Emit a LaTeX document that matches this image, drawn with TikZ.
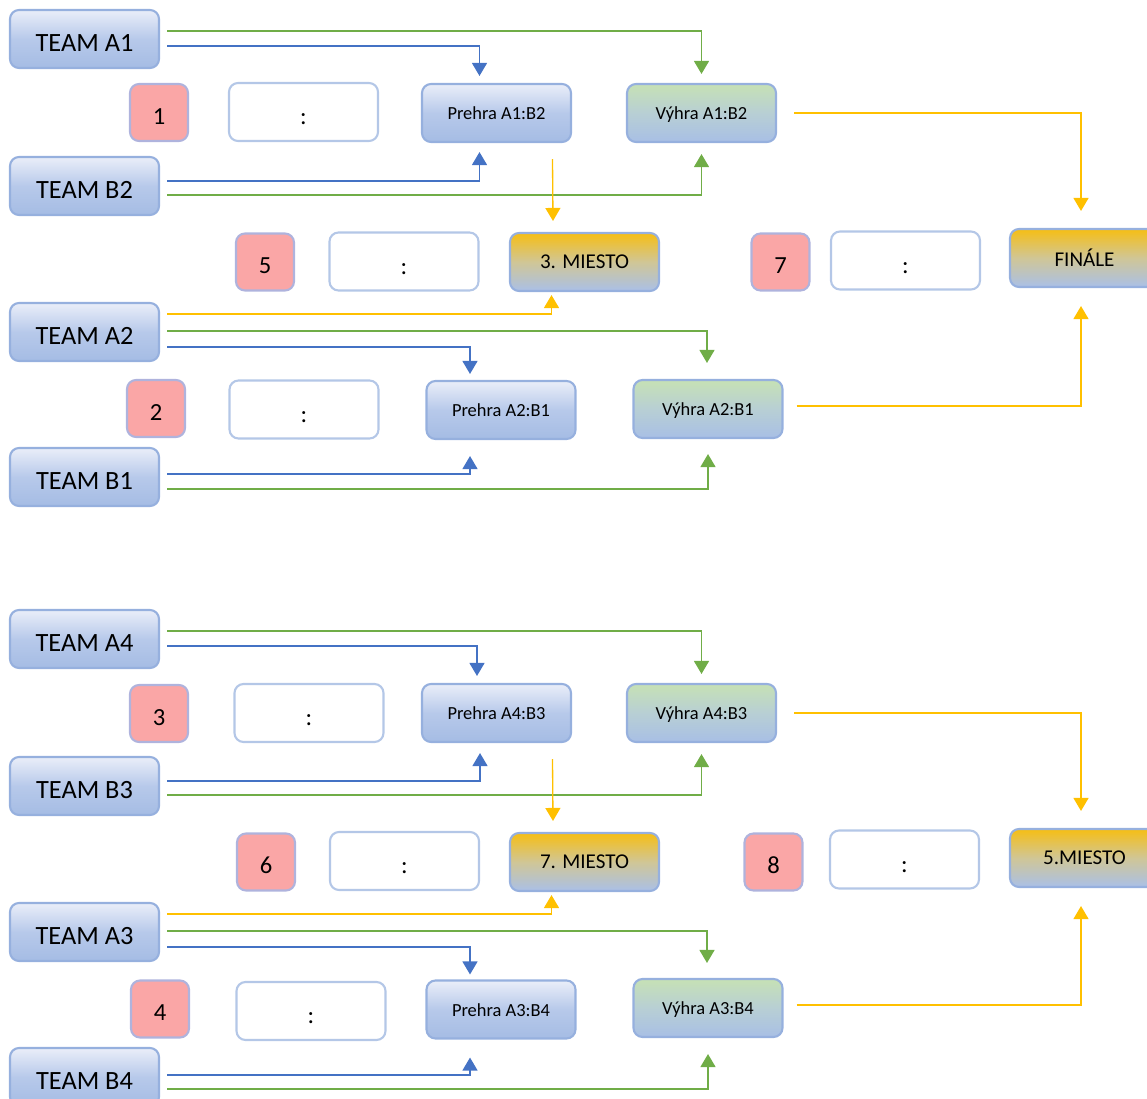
\documentclass[tikz,border=0pt]{standalone}
\usepackage{fontspec}
\setmainfont{Carlito}
\usetikzlibrary{calc,arrows.meta}
\definecolor{lnblue}{RGB}{68,114,196}
\definecolor{lngreen}{RGB}{112,173,71}
\definecolor{lnyellow}{RGB}{255,192,0}
\definecolor{boxedge}{RGB}{150,176,222}
\definecolor{scoreedge}{RGB}{180,199,231}
\definecolor{numfill}{RGB}{250,166,166}
\tikzset{
  box/.style={draw=boxedge, line width=1.2pt, rounded corners=0.18cm, inner sep=0pt,
    minimum width=2.98cm, minimum height=1.16cm, align=center},
  team/.style={box, top color={rgb,255:red,234;green,238;blue,249},
    bottom color={rgb,255:red,165;green,188;blue,228},
    middle color={rgb,255:red,183;green,201;blue,234},
    font=\fontsize{15}{18}\selectfont, text height=13.7pt, text depth=0pt},
  lose/.style={team, font=\fontsize{10.5}{12}\selectfont, text height=7.8pt},
  win/.style={box, top color={rgb,255:red,198;green,225;blue,181},
    bottom color={rgb,255:red,168;green,191;blue,229},
    middle color={rgb,255:red,184;green,207;blue,212},
    font=\fontsize{10.5}{12}\selectfont, text height=7.8pt, text depth=0pt},
  place/.style={box, top color={rgb,255:red,246;green,190;blue,20},
    bottom color={rgb,255:red,170;green,192;blue,231},
    middle color={rgb,255:red,208;green,198;blue,150},
    font=\fontsize{12}{14}\selectfont},
  num/.style={box, draw=scoreedge!90!violet, fill=numfill, minimum width=1.16cm,
    minimum height=1.14cm, font=\fontsize{14}{16}\selectfont,
    text height=13.4pt, text depth=0pt},
  score/.style={box, draw=scoreedge, fill=white, font=\fontsize{14}{16}\selectfont,
    text height=14.4pt, text depth=0pt},
  con/.style={line width=0.75pt, -{Triangle[width=0.3cm,length=0.26cm]}},
  bl/.style={con, lnblue},
  gr/.style={con, lngreen},
  ye/.style={con, lnyellow}
}
\begin{document}
\begin{tikzpicture}[x=0.02cm, y=-0.02cm]
\useasboundingbox (0,0) rectangle (1147,1099);
% upper bracket
\node[team] (a1) at (84.5,39) {TEAM A1};
\node[num] (n1) at (159,112.5) {1};
\node[score] (s1) at (303.5,112) {:};
\node[team] (b2) at (84.5,186) {TEAM B2};
\node[lose] (pa1b2) at (496.5,113) {Prehra A1:B2};
\node[win] (va1b2) at (701.5,113) {Výhra A1:B2};
\node[num] (n5) at (265,262) {5};
\node[score] (s5) at (404,261.5) {:};
\node[place] (m3) at (584.5,262) {3. MIESTO};
\node[num] (n7) at (780.5,262) {7};
\node[score] (s7) at (905.5,260.5) {:};
\node[place] (fin) at (1084.5,258) {FINÁLE};
\node[team] (a2) at (84.5,332) {TEAM A2};
\node[num] (n2) at (156,408.5) {2};
\node[score] (s2) at (304,409.5) {:};
\node[lose] (pa2b1) at (501,410) {Prehra A2:B1};
\node[win] (va2b1) at (708,409) {Výhra A2:B1};
\node[team] (b1) at (84.5,477) {TEAM B1};
\draw[gr] ($(a1.east)+(7,-8)$) -| ($(va1b2.north)+(0,-9)$);
\draw[bl] ($(a1.east)+(7,7)$) -| ($(pa1b2.north)+(-17,-7)$);
\draw[bl] ($(b2.east)+(7,-5)$) -| ($(pa1b2.south)+(-17,9)$);
\draw[gr] ($(b2.east)+(7,9)$) -| ($(va1b2.south)+(0,11)$);
\draw[ye] ($(pa1b2.south)+(56,16)$) -- ($(m3.north)+(-31.5,-11)$);
\draw[ye] ($(va1b2.east)+(17,0)$) -| ($(fin.north)+(-3.5,-17)$);
\draw[ye] ($(a2.east)+(7,-18)$) -| ($(m3.south)+(-33,3)$);
\draw[gr] ($(a2.east)+(7,-1)$) -| ($(va2b1.north)+(-1,-16)$);
\draw[bl] ($(a2.east)+(7,15)$) -| ($(pa2b1.north)+(-31,-6)$);
\draw[bl] ($(b1.east)+(7,-3)$) -| ($(pa2b1.south)+(-31,16)$);
\draw[gr] ($(b1.east)+(7,12)$) -| ($(va2b1.south)+(0,15)$);
\draw[ye] ($(va2b1.east)+(13,-3)$) -| ($(fin.south)+(-3.5,18)$);
% lower bracket
\node[team] (a4) at (84.5,639) {TEAM A4};
\node[num] (n3) at (159,713.5) {3};
\node[score] (s3) at (309,713) {:};
\node[team] (b3) at (84.5,786) {TEAM B3};
\node[lose] (pa4b3) at (496.5,713) {Prehra A4:B3};
\node[win] (va4b3) at (701.5,713) {Výhra A4:B3};
\node[num] (n6) at (266,862) {6};
\node[score] (s6) at (404.5,861) {:};
\node[place] (m7) at (584.5,862) {7. MIESTO};
\node[num] (n8) at (773.5,862) {8};
\node[score] (s8) at (904.5,859.5) {:};
\node[place] (m5) at (1084.5,858) {5.MIESTO};
\node[team] (a3) at (84.5,932) {TEAM A3};
\node[num] (n4) at (160,1009) {4};
\node[score] (s4) at (311,1011) {:};
\node[lose] (pa3b4) at (501,1009.5) {Prehra A3:B4};
\node[win] (va3b4) at (708,1008) {Výhra A3:B4};
\node[team] (b4) at (84.5,1077) {TEAM B4};
\draw[gr] ($(a4.east)+(7,-8)$) -| ($(va4b3.north)+(0,-9)$);
\draw[bl] ($(a4.east)+(7,7)$) -| ($(pa4b3.north)+(-19.5,-7)$);
\draw[bl] ($(b3.east)+(7,-5)$) -| ($(pa4b3.south)+(-16.5,10)$);
\draw[gr] ($(b3.east)+(7,9)$) -| ($(va4b3.south)+(0,11)$);
\draw[ye] ($(pa4b3.south)+(56,16)$) -- ($(m7.north)+(-31.5,-11)$);
\draw[ye] ($(va4b3.east)+(17,0)$) -| ($(m5.north)+(-3.5,-17)$);
\draw[ye] ($(a3.east)+(7,-18)$) -| ($(m7.south)+(-33,3)$);
\draw[gr] ($(a3.east)+(7,-1)$) -| ($(va3b4.north)+(-1,-15)$);
\draw[bl] ($(a3.east)+(7,15)$) -| ($(pa3b4.north)+(-31,-5)$);
\draw[bl] ($(b4.east)+(7,-2)$) -| ($(pa3b4.south)+(-31,18)$);
\draw[gr] ($(b4.east)+(7,12)$) -| ($(va3b4.south)+(0,16)$);
\draw[ye] ($(va3b4.east)+(13,-3)$) -| ($(m5.south)+(-3.5,18)$);
\end{tikzpicture}
\end{document}
